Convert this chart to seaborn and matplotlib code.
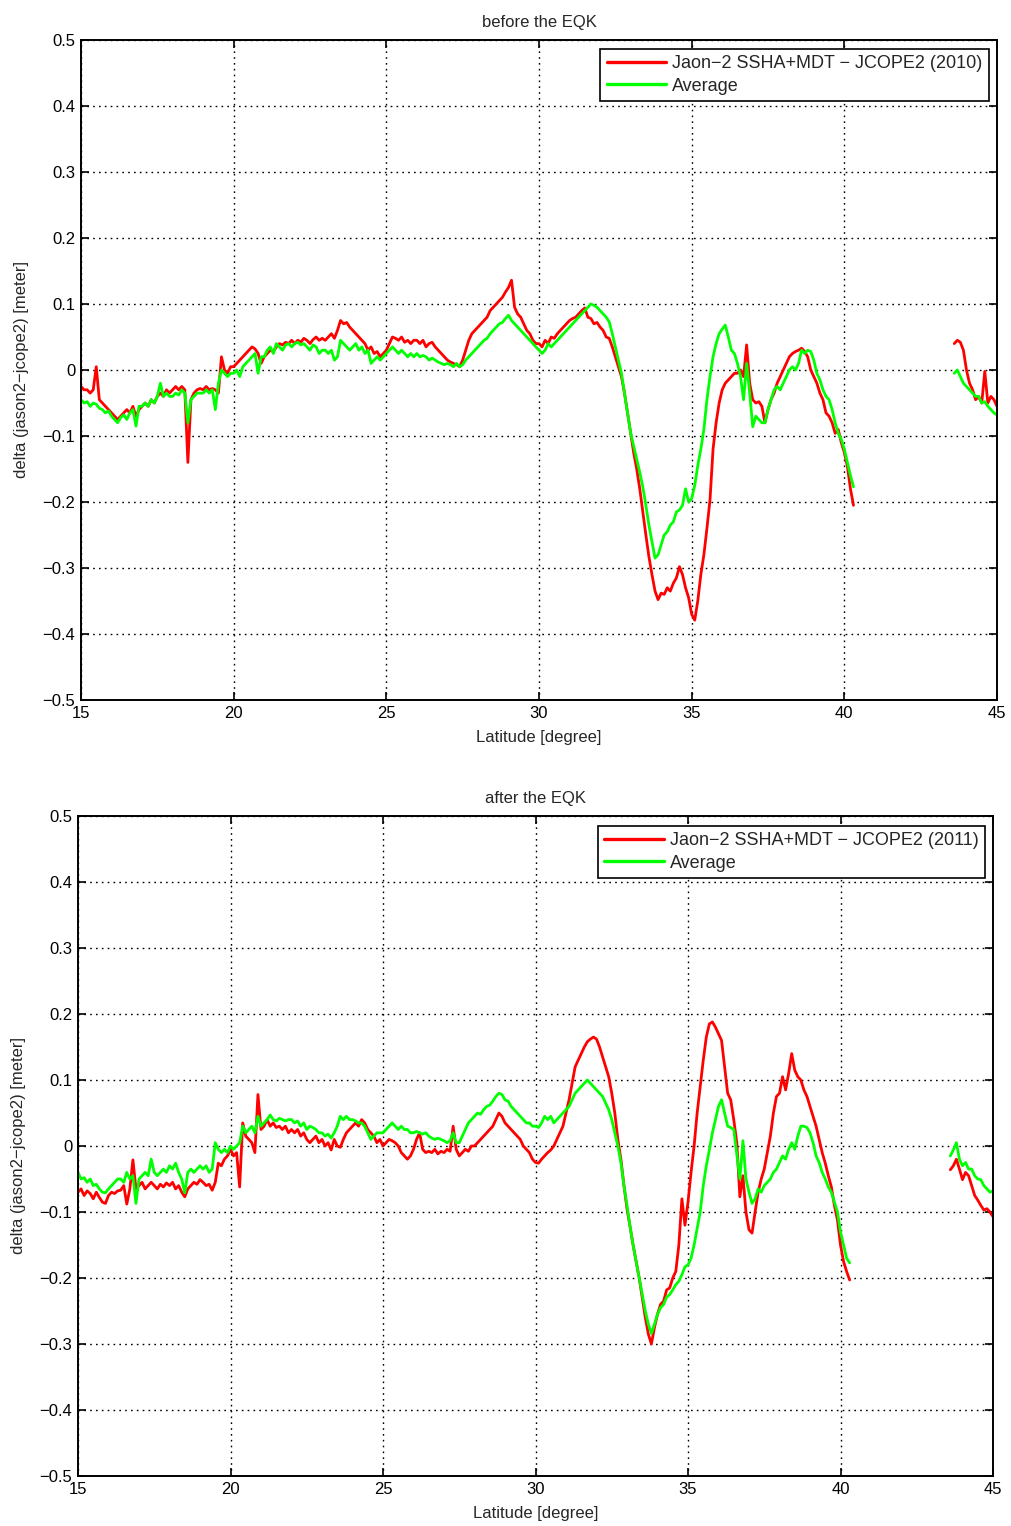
import numpy as np
import pandas as pd
import matplotlib
matplotlib.use("Agg")
import matplotlib.pyplot as plt
from matplotlib.lines import Line2D
import seaborn as sns

# ---------------- data ----------------
# latitude sampling grid (degrees) for the two track segments
lat_seg1 = np.round(np.arange(15.0, 40.31, 0.1), 1)   # 15.0 .. 40.3
lat_seg2 = np.round(np.arange(43.6, 45.01, 0.1), 1)   # 43.6 .. 45.0

# --- before the EQK (2010) ---
before_red_seg1 = [
    -0.025, -0.030, -0.030, -0.035, -0.030, 0.005, -0.045, -0.050, -0.055, -0.060,   # 15
    -0.065, -0.070, -0.075, -0.070, -0.065, -0.060, -0.065, -0.055, -0.070, -0.060,  # 16
    -0.055, -0.050, -0.055, -0.045, -0.050, -0.040, -0.035, -0.040, -0.030, -0.035,  # 17
    -0.030, -0.025, -0.030, -0.025, -0.030, -0.140, -0.045, -0.035, -0.030, -0.028,  # 18
    -0.030, -0.025, -0.030, -0.028, -0.030, -0.035, 0.020, 0.000, -0.005, 0.005,     # 19
    0.005, 0.010, 0.015, 0.020, 0.025, 0.030, 0.035, 0.032, 0.025, 0.010,            # 20
    0.020, 0.025, 0.030, 0.028, 0.035, 0.040, 0.038, 0.042, 0.040, 0.045,            # 21
    0.040, 0.045, 0.042, 0.048, 0.045, 0.040, 0.046, 0.050, 0.045, 0.048,            # 22
    0.045, 0.050, 0.055, 0.048, 0.060, 0.075, 0.070, 0.072, 0.065, 0.060,            # 23
    0.055, 0.050, 0.045, 0.040, 0.030, 0.035, 0.025, 0.028, 0.020, 0.025,            # 24
    0.030, 0.040, 0.050, 0.048, 0.045, 0.050, 0.042, 0.045, 0.040, 0.045,            # 25
    0.045, 0.040, 0.045, 0.035, 0.040, 0.042, 0.035, 0.030, 0.025, 0.020,            # 26
    0.015, 0.012, 0.010, 0.008, 0.005, 0.015, 0.030, 0.045, 0.055, 0.060,            # 27
    0.065, 0.070, 0.075, 0.080, 0.090, 0.095, 0.100, 0.105, 0.110, 0.118,            # 28
    0.125, 0.136, 0.095, 0.085, 0.080, 0.070, 0.060, 0.055, 0.045, 0.040,            # 29
    0.040, 0.035, 0.045, 0.040, 0.050, 0.048, 0.055, 0.060, 0.065, 0.070,            # 30
    0.075, 0.078, 0.080, 0.085, 0.090, 0.094, 0.080, 0.078, 0.070, 0.072,            # 31
    0.065, 0.060, 0.050, 0.048, 0.035, 0.020, 0.005, -0.010, -0.035, -0.065,         # 32
    -0.096, -0.125, -0.150, -0.180, -0.215, -0.250, -0.283, -0.310, -0.335, -0.348,  # 33
    -0.338, -0.340, -0.330, -0.335, -0.323, -0.315, -0.298, -0.310, -0.330, -0.345,  # 34
    -0.370, -0.379, -0.350, -0.310, -0.280, -0.240, -0.197, -0.120, -0.080, -0.050,  # 35
    -0.030, -0.020, -0.015, -0.010, -0.005, -0.005, 0.000, -0.010, 0.038, -0.020,    # 36
    -0.045, -0.050, -0.048, -0.055, -0.080, -0.060, -0.045, -0.035, -0.020, -0.010,  # 37
    0.000, 0.010, 0.020, 0.025, 0.028, 0.030, 0.033, 0.028, 0.020, 0.000,            # 38
    -0.010, -0.020, -0.035, -0.045, -0.065, -0.070, -0.080, -0.096, -0.090, -0.110,  # 39
    -0.125, -0.146, -0.180, -0.205,                                                  # 40
]
before_red_seg2 = [0.040, 0.045, 0.042, 0.030, 0.000, -0.020, -0.030, -0.045,
                   -0.040, -0.050, -0.002, -0.050, -0.040, -0.045, -0.055]

before_avg_seg1 = [
    -0.045, -0.050, -0.048, -0.055, -0.050, -0.052, -0.058, -0.060, -0.065, -0.062,  # 15
    -0.070, -0.075, -0.080, -0.072, -0.068, -0.075, -0.065, -0.060, -0.085, -0.055,  # 16
    -0.055, -0.050, -0.055, -0.045, -0.050, -0.040, -0.020, -0.040, -0.035, -0.040,  # 17
    -0.040, -0.035, -0.038, -0.030, -0.035, -0.080, -0.045, -0.040, -0.035, -0.035,  # 18
    -0.035, -0.030, -0.035, -0.030, -0.060, -0.020, 0.000, -0.005, -0.010, -0.005,   # 19
    -0.005, 0.000, -0.010, 0.005, 0.010, 0.015, 0.020, 0.025, -0.005, 0.020,         # 20
    0.020, 0.030, 0.035, 0.025, 0.040, 0.035, 0.030, 0.038, 0.040, 0.035,            # 21
    0.040, 0.042, 0.038, 0.040, 0.035, 0.030, 0.038, 0.035, 0.025, 0.030,            # 22
    0.030, 0.025, 0.030, 0.015, 0.020, 0.045, 0.040, 0.035, 0.030, 0.035,            # 23
    0.040, 0.030, 0.035, 0.025, 0.030, 0.010, 0.015, 0.020, 0.015, 0.020,            # 24
    0.025, 0.030, 0.035, 0.030, 0.025, 0.030, 0.025, 0.020, 0.025, 0.020,            # 25
    0.025, 0.020, 0.022, 0.020, 0.015, 0.018, 0.015, 0.012, 0.010, 0.008,            # 26
    0.010, 0.008, 0.005, 0.010, 0.005, 0.008, 0.015, 0.020, 0.025, 0.030,            # 27
    0.035, 0.040, 0.045, 0.048, 0.055, 0.060, 0.065, 0.070, 0.072, 0.078,            # 28
    0.083, 0.075, 0.070, 0.065, 0.060, 0.055, 0.050, 0.045, 0.040, 0.035,            # 29
    0.030, 0.025, 0.030, 0.040, 0.035, 0.040, 0.045, 0.050, 0.055, 0.060,            # 30
    0.065, 0.070, 0.075, 0.080, 0.085, 0.090, 0.095, 0.100, 0.098, 0.095,            # 31
    0.090, 0.085, 0.080, 0.073, 0.055, 0.035, 0.015, -0.005, -0.035, -0.065,         # 32
    -0.095, -0.115, -0.135, -0.155, -0.177, -0.205, -0.235, -0.260, -0.285, -0.280,  # 33
    -0.265, -0.250, -0.245, -0.235, -0.230, -0.215, -0.212, -0.205, -0.180, -0.200,  # 34
    -0.195, -0.175, -0.145, -0.120, -0.090, -0.045, -0.010, 0.020, 0.040, 0.055,     # 35
    0.062, 0.068, 0.050, 0.030, 0.025, 0.010, -0.010, -0.045, 0.010, -0.035,         # 36
    -0.086, -0.070, -0.075, -0.080, -0.080, -0.060, -0.045, -0.030, -0.025, -0.030,  # 37
    -0.020, -0.010, 0.000, 0.005, 0.000, 0.010, 0.030, 0.025, 0.030, 0.028,          # 38
    0.015, -0.005, -0.015, -0.030, -0.040, -0.045, -0.060, -0.080, -0.096, -0.105,   # 39
    -0.120, -0.140, -0.160, -0.177,                                                  # 40
]
before_avg_seg2 = [-0.005, 0.000, -0.010, -0.020, -0.025, -0.030, -0.035, -0.040,
                   -0.040, -0.050, -0.048, -0.055, -0.060, -0.065, -0.068]

# --- after the EQK (2011) ---
after_red_seg1 = [
    -0.070, -0.065, -0.075, -0.068, -0.072, -0.080, -0.070, -0.078, -0.085, -0.087,  # 15
    -0.075, -0.070, -0.072, -0.068, -0.067, -0.060, -0.088, -0.065, -0.021, -0.065,  # 16
    -0.060, -0.055, -0.065, -0.060, -0.055, -0.060, -0.065, -0.058, -0.062, -0.056,  # 17
    -0.060, -0.055, -0.065, -0.060, -0.070, -0.077, -0.065, -0.060, -0.055, -0.058,  # 18
    -0.051, -0.055, -0.060, -0.058, -0.067, -0.055, -0.026, -0.030, -0.020, -0.015,  # 19
    -0.005, -0.015, -0.010, -0.062, 0.035, 0.015, 0.010, 0.005, -0.010, 0.078,       # 20
    0.025, 0.030, 0.040, 0.030, 0.035, 0.028, 0.030, 0.025, 0.030, 0.020,            # 21
    0.025, 0.020, 0.025, 0.015, 0.020, 0.010, 0.005, 0.010, 0.015, 0.005,            # 22
    0.010, 0.000, 0.005, -0.006, 0.010, 0.000, -0.002, 0.010, 0.020, 0.025,          # 23
    0.030, 0.035, 0.030, 0.040, 0.035, 0.025, 0.020, 0.015, 0.005, 0.010,            # 24
    0.000, 0.005, 0.010, 0.008, 0.005, 0.000, -0.010, -0.015, -0.020, -0.015,        # 25
    -0.005, 0.010, 0.020, -0.005, -0.010, -0.008, -0.010, -0.005, -0.012, -0.008,    # 26
    -0.010, -0.005, -0.008, 0.030, -0.005, -0.015, -0.010, -0.005, -0.008, 0.000,    # 27
    0.000, 0.005, 0.010, 0.015, 0.020, 0.025, 0.030, 0.040, 0.050, 0.045,            # 28
    0.035, 0.030, 0.025, 0.020, 0.015, 0.010, 0.000, -0.005, -0.010, -0.020,         # 29
    -0.025, -0.026, -0.020, -0.015, -0.010, -0.006, 0.000, 0.010, 0.020, 0.030,      # 30
    0.050, 0.070, 0.095, 0.120, 0.130, 0.140, 0.150, 0.158, 0.162, 0.165,            # 31
    0.162, 0.150, 0.135, 0.120, 0.105, 0.080, 0.050, 0.010, -0.020, -0.060,          # 32
    -0.095, -0.122, -0.150, -0.175, -0.200, -0.230, -0.260, -0.285, -0.300, -0.275,  # 33
    -0.255, -0.240, -0.235, -0.218, -0.215, -0.200, -0.190, -0.150, -0.080, -0.120,  # 34
    -0.085, -0.040, 0.000, 0.050, 0.090, 0.130, 0.165, 0.185, 0.188, 0.180,          # 35
    0.170, 0.160, 0.120, 0.080, 0.070, 0.040, 0.005, -0.077, -0.045, -0.100,         # 36
    -0.127, -0.132, -0.100, -0.070, -0.050, -0.035, -0.010, 0.015, 0.050, 0.075,     # 37
    0.080, 0.105, 0.085, 0.110, 0.140, 0.115, 0.105, 0.100, 0.085, 0.075,            # 38
    0.060, 0.045, 0.030, 0.010, -0.010, -0.026, -0.045, -0.062, -0.090, -0.112,      # 39
    -0.150, -0.175, -0.190, -0.203,                                                  # 40
]
after_red_seg2 = [-0.036, -0.030, -0.020, -0.035, -0.051, -0.040, -0.045, -0.060,
                  -0.075, -0.082, -0.090, -0.097, -0.095, -0.100, -0.107]

after_avg_seg1 = [
    -0.040, -0.050, -0.048, -0.055, -0.050, -0.060, -0.058, -0.065, -0.070, -0.071,  # 15
    -0.065, -0.060, -0.055, -0.050, -0.050, -0.055, -0.040, -0.050, -0.045, -0.087,  # 16
    -0.050, -0.045, -0.040, -0.045, -0.020, -0.040, -0.045, -0.040, -0.035, -0.040,  # 17
    -0.030, -0.035, -0.026, -0.040, -0.050, -0.071, -0.040, -0.035, -0.040, -0.035,  # 18
    -0.030, -0.035, -0.030, -0.040, -0.035, 0.005, -0.005, -0.010, -0.005, -0.010,   # 19
    0.000, -0.005, 0.000, 0.005, 0.030, 0.020, 0.025, 0.030, 0.020, 0.045,           # 20
    0.030, 0.035, 0.040, 0.047, 0.040, 0.038, 0.042, 0.040, 0.038, 0.040,            # 21
    0.040, 0.035, 0.038, 0.030, 0.035, 0.025, 0.030, 0.028, 0.025, 0.020,            # 22
    0.020, 0.015, 0.018, 0.012, 0.020, 0.030, 0.045, 0.040, 0.045, 0.040,            # 23
    0.040, 0.038, 0.035, 0.035, 0.030, 0.020, 0.010, 0.015, 0.020, 0.020,            # 24
    0.020, 0.025, 0.030, 0.035, 0.030, 0.025, 0.030, 0.025, 0.025, 0.020,            # 25
    0.020, 0.022, 0.020, 0.018, 0.020, 0.015, 0.012, 0.010, 0.012, 0.010,            # 26
    0.008, 0.005, 0.008, 0.020, 0.005, 0.005, 0.015, 0.025, 0.035, 0.040,            # 27
    0.045, 0.050, 0.048, 0.055, 0.060, 0.062, 0.068, 0.075, 0.080, 0.078,            # 28
    0.070, 0.068, 0.060, 0.055, 0.050, 0.045, 0.040, 0.035, 0.035, 0.030,            # 29
    0.030, 0.028, 0.035, 0.045, 0.040, 0.045, 0.035, 0.040, 0.045, 0.050,            # 30
    0.055, 0.060, 0.070, 0.080, 0.085, 0.090, 0.095, 0.100, 0.095, 0.090,            # 31
    0.085, 0.080, 0.075, 0.065, 0.055, 0.040, 0.020, 0.000, -0.025, -0.060,          # 32
    -0.090, -0.122, -0.150, -0.175, -0.200, -0.225, -0.250, -0.270, -0.284, -0.270,  # 33
    -0.255, -0.245, -0.240, -0.229, -0.225, -0.218, -0.210, -0.205, -0.195, -0.183,  # 34
    -0.180, -0.170, -0.150, -0.125, -0.100, -0.060, -0.030, -0.006, 0.020, 0.040,    # 35
    0.060, 0.070, 0.050, 0.030, 0.028, 0.025, -0.013, -0.050, 0.008, -0.050,         # 36
    -0.070, -0.087, -0.080, -0.065, -0.070, -0.060, -0.055, -0.050, -0.040, -0.035,  # 37
    -0.025, -0.015, -0.020, -0.005, 0.005, -0.005, 0.015, 0.030, 0.030, 0.028,       # 38
    0.020, 0.005, -0.015, -0.025, -0.040, -0.050, -0.062, -0.070, -0.085, -0.100,    # 39
    -0.130, -0.150, -0.170, -0.177,                                                  # 40
]
after_avg_seg2 = [-0.015, -0.006, 0.005, -0.020, -0.030, -0.025, -0.035, -0.035,
                  -0.045, -0.050, -0.051, -0.060, -0.065, -0.070, -0.068]

panel_titles = ["before the EQK", "after the EQK"]
red_labels = ["Jaon\u22122 SSHA+MDT \u2212 JCOPE2 (2010)",
              "Jaon\u22122 SSHA+MDT \u2212 JCOPE2 (2011)"]
avg_label = "Average"
x_ticks = [15, 20, 25, 30, 35, 40, 45]
y_ticks = [0.5, 0.4, 0.3, 0.2, 0.1, 0, -0.1, -0.2, -0.3, -0.4, -0.5]
y_tick_labels = ["0.5", "0.4", "0.3", "0.2", "0.1", "0",
                 "\u22120.1", "\u22120.2", "\u22120.3", "\u22120.4", "\u22120.5"]
x_label = "Latitude [degree]"
y_label = "delta (jason2\u2212jcope2) [meter]"


def build_frame(red1, red2, avg1, avg2):
    parts = []
    for name, v1, v2 in (("red", red1, red2), ("avg", avg1, avg2)):
        parts.append(pd.DataFrame({"lat": lat_seg1, "delta": v1,
                                   "series": name, "seg": name + "1"}))
        parts.append(pd.DataFrame({"lat": lat_seg2, "delta": v2,
                                   "series": name, "seg": name + "2"}))
    return pd.concat(parts, ignore_index=True)


frames = [build_frame(before_red_seg1, before_red_seg2, before_avg_seg1, before_avg_seg2),
          build_frame(after_red_seg1, after_red_seg2, after_avg_seg1, after_avg_seg2)]

# ---------------- style ----------------
sns.set_theme(style="white")
plt.rcParams["font.family"] = ["Liberation Sans Narrow", "Liberation Sans", "DejaVu Sans"]
plt.rcParams["axes.unicode_minus"] = True

RED = "#ff0000"
GREEN = "#00ff00"
palette = {"red": RED, "avg": GREEN}

fig = plt.figure(figsize=(10.11, 15.26), dpi=100)
axes_rects = [
    [81 / 1011, 1 - 700 / 1526, (997 - 81) / 1011, 660 / 1526],
    [78 / 1011, 1 - 1476 / 1526, (993 - 78) / 1011, 660 / 1526],
]
legend_anchor = [(989 / 1011, 1 - 49 / 1526), (985 / 1011, 1 - 826 / 1526)]

for i, (rect, df) in enumerate(zip(axes_rects, frames)):
    ax = fig.add_axes(rect)
    sns.lineplot(data=df, x="lat", y="delta", hue="series", units="seg",
                 estimator=None, palette=palette, hue_order=["red", "avg"],
                 linewidth=2.0, legend=False, ax=ax, sort=False)
    ax.set_xlim(15, 45)
    ax.set_ylim(-0.5, 0.5)
    ax.set_xticks(x_ticks)
    ax.set_xticklabels([str(t) for t in x_ticks])
    ax.set_yticks(y_ticks)
    ax.set_yticklabels(y_tick_labels)
    ax.grid(True, color="black", linestyle=(0, (1.2, 3.0)), linewidth=1.0)
    for s in ax.spines.values():
        s.set_color("black")
        s.set_linewidth(1.4)
        s.set_visible(True)
    ax.tick_params(direction="in", length=6, width=1.2, top=True, right=True,
                   bottom=True, left=True, labelsize=12, colors="black", pad=4)
    ax.set_xlabel(x_label, fontsize=12, labelpad=7)
    ax.set_ylabel(y_label, fontsize=12, labelpad=10)
    ax.set_title(panel_titles[i], fontsize=12, pad=9)
    handles = [Line2D([], [], color=RED, lw=2.4), Line2D([], [], color=GREEN, lw=2.4)]
    leg = ax.legend(handles, [red_labels[i], avg_label], loc="upper right",
                    bbox_to_anchor=legend_anchor[i], bbox_transform=fig.transFigure,
                    frameon=True, fancybox=False, framealpha=1, edgecolor="black",
                    fontsize=13, handlelength=3.3, handletextpad=0.35,
                    borderpad=0.35, labelspacing=0.3, borderaxespad=0)
    leg.get_frame().set_linewidth(1.2)

fig.savefig("out.png", dpi=100)
